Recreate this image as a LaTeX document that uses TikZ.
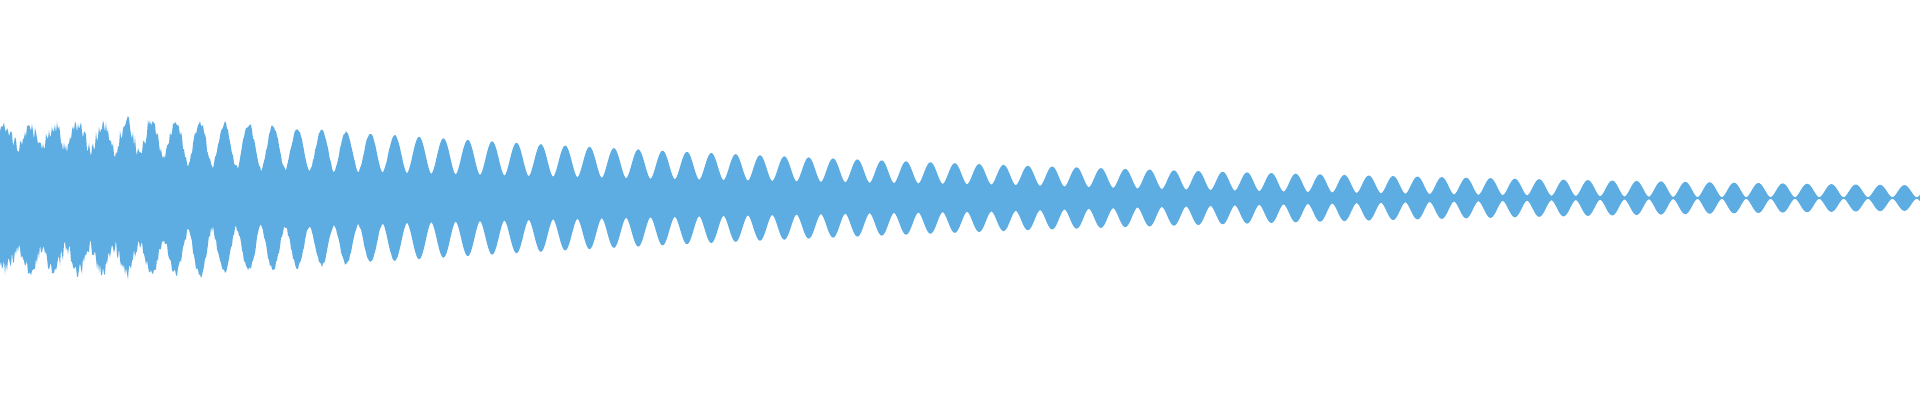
\documentclass[tikz,border=0pt]{standalone}
\definecolor{wavec}{RGB}{93,173,226}
\begin{document}
\begin{tikzpicture}[x=1pt,y=1pt,
  declare function={
    M(\x)=(\x<200) ? (70+0.035*\x) : (77*exp(-(\x-200)/950));
    F(\x)=(\x<150) ? (0.75-0.001*\x) : ((\x<200) ? 0.6-0.004*(\x-150) : max(0.05,min(0.4,0.4-(\x-1000)*0.0005)));
    S(\x)=(0.001+(1+cos(360*mod(\x+19.15,24.35)/24.35))/2)^0.85;
    N(\x)=(\x<150) ? (8*rand) : ((\x<420) ? (5*(1-(\x-150)/270)*rand) : 0);
    T(\x)=M(\x)*(F(\x)+(1-F(\x))*S(\x))+N(\x);
  },
  wave/.style={fill=wavec}]
\useasboundingbox (0,0) rectangle (1920,400);
\pgfmathsetseed{7}
\fill[wave] plot[domain=0:1920,samples=1921] (\x,{202+T(\x)})
  -- plot[domain=1920:0,samples=1921] (\x,{202-T(\x)}) -- cycle;
\end{tikzpicture}
\end{document}
